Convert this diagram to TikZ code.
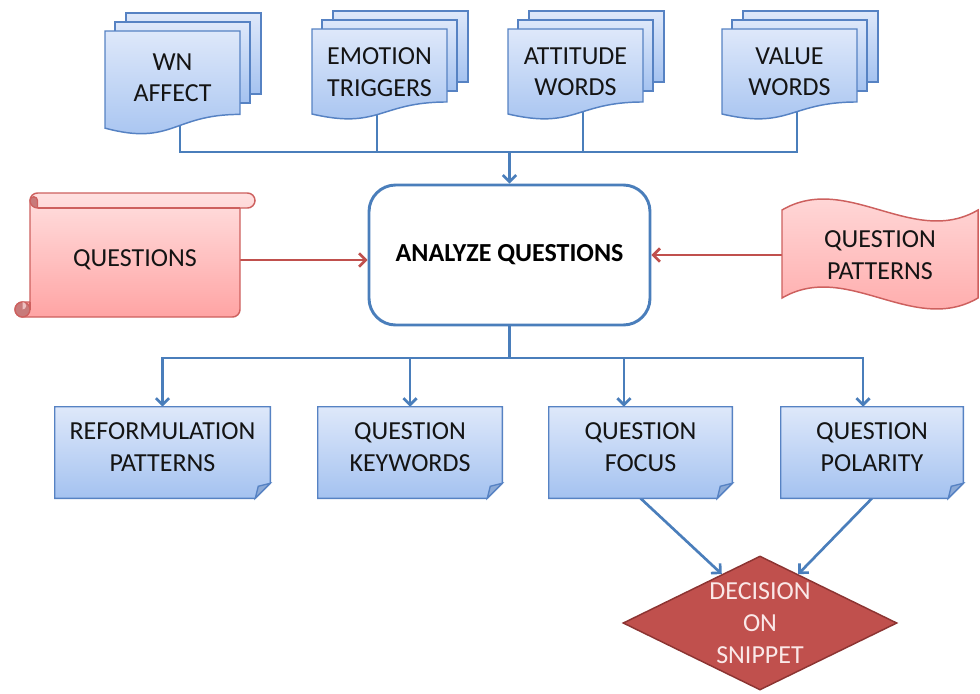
\documentclass[tikz,border=0pt]{standalone}
\usepackage{fontspec}
\setmainfont{Carlito}
\usetikzlibrary{arrows.meta,shapes.geometric}

\pgfdeclarelayer{conn}
\pgfdeclarelayer{body}
\pgfsetlayers{conn,body,main}

\definecolor{blueedge}{RGB}{86,130,195}
\definecolor{bluetop}{RGB}{222,232,250}
\definecolor{bluebot}{RGB}{164,194,240}
\definecolor{bluefold}{RGB}{140,170,215}
\definecolor{blueline}{RGB}{74,126,187}
\definecolor{rededge}{RGB}{205,96,94}
\definecolor{redtop}{RGB}{255,224,224}
\definecolor{redbot}{RGB}{255,164,164}
\definecolor{reddark}{RGB}{200,122,122}
\definecolor{redline}{RGB}{192,80,77}
\definecolor{decfill}{RGB}{192,80,77}
\definecolor{decedge}{RGB}{140,52,50}
\definecolor{dectext}{RGB}{250,232,232}

% stack of three pages, front one with a wavy bottom: left x, top y, height
\newcommand\docstack[3]{%
  \path[bluefill] (#1+21,#2-18) rectangle (#1+156,#2-18+0.78*#3);
  \path[bluefill] (#1+10,#2-9) rectangle (#1+145,#2-9+0.78*#3);
  \path[bluefill] (#1,#2) -- (#1+135,#2) -- (#1+135,#2+0.802*#3)
    .. controls (#1+67.5,#2+0.802*#3) and (#1+67.5,#2+1.1075*#3) .. (#1,#2+0.934*#3) -- cycle;
}

% sheet with a folded lower right corner, drawn round a named node
\newcommand\notepage[1]{%
  \path[bluefill] (#1.north west) -- (#1.north east) -- ([yshift=11.25pt]#1.south east)
    -- ([xshift=-11.25pt]#1.south east) -- (#1.south west) -- cycle;
  \path[draw=blueedge, line width=1pt, fill=bluefold]
    ([xshift=-11.25pt]#1.south east) -- ([xshift=-9pt,yshift=9pt]#1.south east)
    -- ([yshift=11.25pt]#1.south east) -- cycle;
}

\begin{document}
\begin{tikzpicture}[x=0.75pt,y=-0.75pt,
  lbl/.style={font=\fontsize{19.5pt}{23.5pt}\selectfont, align=center, text=black!92, inner sep=0pt},
  bluefill/.style={draw=blueedge, line width=1.1pt, top color=bluetop, bottom color=bluebot},
  redfill/.style={draw=rededge, line width=1.1pt, top color=redtop, bottom color=redbot},
  notebox/.style={rectangle, inner sep=0pt, minimum height=68.25pt},
  flow/.style={draw=blueline, line width=2pt},
  flowarrow/.style={flow, -{Straight Barb[length=5pt,width=10pt]}},
  feed/.style={draw=redline, line width=2pt, -{Straight Barb[length=5pt,width=10pt]}},
]
\useasboundingbox (0,0) rectangle (980,693);

% ---------- resources on top ----------
\begin{pgfonlayer}{body}
  \docstack{105}{31}{104}
  \docstack{312}{29}{91}
  \docstack{508}{29}{91}
  \docstack{722}{29}{91}
\end{pgfonlayer}
\node[lbl] (wn)  at (172.5,78) {WN\\AFFECT};
\node[lbl] (emo) at (379.5,72) {EMOTION\\TRIGGERS};
\node[lbl] (att) at (575.5,72) {ATTITUDE\\WORDS};
\node[lbl] (val) at (789.5,72) {VALUE\\WORDS};
\coordinate (wn-tail)  at (180,100);
\coordinate (emo-tail) at (377,100);
\coordinate (att-tail) at (583,100);
\coordinate (val-tail) at (797,100);
\coordinate (topbus) at (509.5,152);

% ---------- central process ----------
\node[draw=blueline, line width=2.2pt, fill=white, rounded corners=20pt,
      minimum width=210.75pt, minimum height=105pt,
      font=\fontsize{19.5pt}{23.5pt}\selectfont\bfseries, text=black] (analyze) at (509.5,255) {ANALYZE QUESTIONS};

% ---------- question scroll ----------
\begin{pgfonlayer}{body}
  \path[redfill] (30,200.5) arc[start angle=180,end angle=270,radius=7.5]
    -- (247.5,193) arc[start angle=-90,end angle=90,radius=7.5]
    -- (240,208) -- (240,309.5) arc[start angle=0,end angle=90,radius=7.5]
    -- (22.5,317) arc[start angle=90,end angle=270,radius=7.5]
    -- (30,302) -- cycle;
  \draw[rededge, line width=1.1pt] (37.5,208) -- (240,208);
  \path[draw=rededge, line width=1pt, fill=reddark] (37.5,208) arc[start angle=90,end angle=180,radius=7.5]
    arc[start angle=180,end angle=360,radius=3.75] -- cycle;
  \path[draw=rededge, line width=1pt, fill=reddark] (22.5,309.5) circle[radius=7.5];
  \fill[redtop!70!reddark] (22.5,302) arc[start angle=-90,end angle=90,radius=3.75] -- cycle;
  \draw[rededge, line width=1.1pt] (30,302) -- (30,309.5);
\end{pgfonlayer}
\node[lbl, minimum width=157.5pt, minimum height=82.5pt] (questions) at (135,260) {QUESTIONS};

% ---------- question patterns banner ----------
\begin{pgfonlayer}{body}
  \path[redfill] (782,210) .. controls (847,172) and (913,248) .. (978,210)
    -- (978,298) .. controls (913,336) and (847,260) .. (782,298) -- cycle;
\end{pgfonlayer}
\node[lbl, minimum width=147pt, minimum height=66pt] (patterns) at (880,255) {QUESTION\\PATTERNS};

% ---------- outputs ----------
\node[notebox, minimum width=161.25pt, label={[lbl, yshift=4pt]center:{REFORMULATION\\PATTERNS}}] (reform) at (162.5,452.5) {};
\node[notebox, minimum width=138pt, label={[lbl, yshift=4pt]center:{QUESTION\\KEYWORDS}}] (keywords) at (410,452.5) {};
\node[notebox, minimum width=137.25pt, label={[lbl, yshift=4pt]center:{QUESTION\\FOCUS}}] (focus) at (640.5,452.5) {};
\node[notebox, minimum width=136.5pt, label={[lbl, yshift=4pt]center:{QUESTION\\POLARITY}}] (polarity) at (872,452.5) {};
\begin{pgfonlayer}{body}
  \notepage{reform}
  \notepage{keywords}
  \notepage{focus}
  \notepage{polarity}
\end{pgfonlayer}
\coordinate (botbus) at (509.5,358);

% ---------- decision ----------
\node[diamond, draw=decedge, line width=1.1pt, fill=decfill, inner sep=0pt,
      minimum width=205.5pt, minimum height=100.5pt,
      label={[lbl, text=dectext, font=\fontsize{19.5pt}{24pt}\selectfont]center:{DECISION\\ON\\SNIPPET}}] (dec) at (760,623) {};

% ---------- connectors ----------
\begin{pgfonlayer}{conn}
  \draw[flow] (wn-tail) |- (topbus) -| (val-tail);
  \draw[flow] (emo-tail) |- (topbus);
  \draw[flow] (att-tail) |- (topbus);
  \draw[flowarrow] (topbus) -- (analyze.north);
  \draw[flow] (analyze.south) -- (botbus);
  \draw[flowarrow] (botbus) -| (reform.north);
  \draw[flowarrow] (botbus) -| (keywords.north);
  \draw[flowarrow] (botbus) -| ([xshift=-12.4pt]focus.north);
  \draw[flowarrow] (botbus) -| ([xshift=-6.75pt]polarity.north);
  \draw[flowarrow] (focus.south) -- (dec.128);
  \draw[flowarrow] (polarity.south) -- (dec.52);
  \draw[feed] (questions.east) -- (analyze.west |- questions.east);
  \draw[feed] (patterns.west) -- (analyze.east);
\end{pgfonlayer}
\end{tikzpicture}
\end{document}
